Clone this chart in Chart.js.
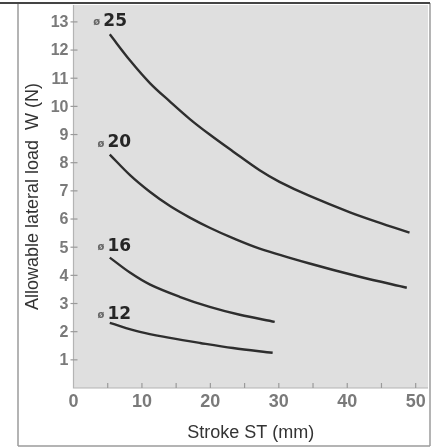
<!DOCTYPE html>
<html>
<head>
<meta charset="utf-8">
<script src="https://cdn.jsdelivr.net/npm/chart.js@4/dist/chart.umd.min.js"></script>
<style>
  html, body { margin: 0; padding: 0; background: #fff; }
  #wrap { width: 438px; height: 448px; position: relative; }
</style>
</head>
<body>
<div id="wrap"><canvas id="chart" width="438" height="448"></canvas></div>
<script>
// values (stroke mm -> load N)
const phi25X = [5.3, 8.3, 11.2, 14.1, 17.0, 19.9, 23.3, 27.2, 30.1, 34.5, 40.4, 45.2, 49.1];
const phi25Y = [12.56, 11.62, 10.82, 10.17, 9.55, 9.0, 8.4, 7.73, 7.32, 6.82, 6.24, 5.83, 5.52];
const phi20X = [5.3, 8.3, 11.2, 14.1, 17.0, 19.9, 23.3, 27.2, 34.5, 41.8, 48.7];
const phi20Y = [8.29, 7.55, 6.96, 6.46, 6.05, 5.69, 5.32, 4.95, 4.42, 3.95, 3.56];
const phi16X = [5.3, 8.3, 11.2, 15.5, 19.9, 24.3, 29.4];
const phi16Y = [4.63, 4.09, 3.67, 3.24, 2.88, 2.6, 2.35];
const phi12X = [5.3, 9.7, 14.1, 18.5, 23.3, 29.1];
const phi12Y = [2.31, 1.99, 1.78, 1.6, 1.42, 1.25];

const boreLabels = ['25', '20', '16', '12'];
const boreLabelX = [2.9, 3.5, 3.5, 3.5];
const boreLabelY = [13.0, 8.7, 5.02, 2.6];

const xTicks = [0, 10, 20, 30, 40, 50];
const yTicks = [1, 2, 3, 4, 5, 6, 7, 8, 9, 10, 11, 12, 13];

const xTitle = 'Stroke ST (mm)';
const yTitle = 'Allowable lateral load  W (N)';

const toPts = (xs, ys) => xs.map((x, i) => ({ x, y: ys[i] }));

const curve = (data) => ({
  data,
  showLine: true,
  borderColor: '#2e2e2e',
  borderWidth: 2.4,
  pointRadius: 0,
  tension: 0.35,
  fill: false
});

// frame, plot background, tick marks, y tick numbers and bore labels
const decor = {
  id: 'decor',
  beforeDraw(chart) {
    const { ctx, chartArea: a } = chart;
    ctx.save();
    ctx.fillStyle = '#dfdfdf';
    ctx.fillRect(a.left, a.top, a.right - a.left, a.bottom - a.top);
    ctx.restore();
  },
  afterDatasetsDraw(chart) {
    const { ctx, chartArea: a, scales } = chart;
    const xs = scales.x, ys = scales.y;
    ctx.save();
    // axis lines
    ctx.strokeStyle = '#b4b4b4';
    ctx.lineWidth = 1.2;
    ctx.beginPath();
    ctx.moveTo(a.left, a.top);
    ctx.lineTo(a.left, a.bottom);
    ctx.lineTo(a.right, a.bottom);
    ctx.stroke();
    // y ticks + numbers
    ctx.strokeStyle = '#9a9a9a';
    ctx.fillStyle = '#7a7a7a';
    ctx.font = 'bold 16px "Liberation Sans"';
    ctx.textAlign = 'right';
    ctx.textBaseline = 'middle';
    yTicks.forEach(v => {
      const py = ys.getPixelForValue(v);
      ctx.beginPath();
      ctx.moveTo(a.left - 3, py);
      ctx.lineTo(a.left + 4, py);
      ctx.stroke();
      ctx.fillText(String(v), a.left - 5, py + 1);
    });
    // x ticks every 5 mm
    for (let v = 5; v <= 50; v += 5) {
      const px = xs.getPixelForValue(v);
      ctx.beginPath();
      ctx.moveTo(px, a.bottom);
      ctx.lineTo(px, a.bottom - 5);
      ctx.stroke();
    }
    // bore labels
    ctx.textAlign = 'left';
    boreLabels.forEach((t, i) => {
      const px = xs.getPixelForValue(boreLabelX[i]);
      const py = ys.getPixelForValue(boreLabelY[i]);
      ctx.fillStyle = '#666';
      ctx.font = 'bold 10px "DejaVu Sans"';
      ctx.fillText('ø', px, py + 1);
      ctx.fillStyle = '#262626';
      ctx.font = 'bold 17px "DejaVu Sans"';
      ctx.fillText(t, px + 10, py);
    });
    ctx.restore();
  },
  afterDraw(chart) {
    const { ctx } = chart;
    ctx.save();
    ctx.strokeStyle = '#9c9c9c';
    ctx.lineWidth = 1.5;
    ctx.beginPath();
    ctx.moveTo(18, 3);
    ctx.lineTo(18, 446);
    ctx.moveTo(430, 3);
    ctx.lineTo(430, 446);
    ctx.moveTo(18, 446);
    ctx.lineTo(430, 446);
    ctx.stroke();
    ctx.strokeStyle = '#444';
    ctx.lineWidth = 2;
    ctx.beginPath();
    ctx.moveTo(0, 3);
    ctx.lineTo(430, 3);
    ctx.stroke();
    ctx.restore();
  }
};

new Chart(document.getElementById('chart').getContext('2d'), {
  type: 'scatter',
  data: {
    datasets: [
      curve(toPts(phi25X, phi25Y)),
      curve(toPts(phi20X, phi20Y)),
      curve(toPts(phi16X, phi16Y)),
      curve(toPts(phi12X, phi12Y))
    ]
  },
  options: {
    responsive: false,
    animation: false,
    devicePixelRatio: 1,
    layout: { padding: { left: 18, top: 5, right: 10, bottom: 2 } },
    plugins: {
      legend: { display: false },
      tooltip: { enabled: false }
    },
    scales: {
      x: {
        type: 'linear',
        min: 0,
        max: 51.8,
        afterFit: s => { s.height = 58; },
        afterBuildTicks: s => { s.ticks = xTicks.map(v => ({ value: v })); },
        grid: { display: false, drawTicks: false },
        border: { display: false },
        ticks: {
          color: '#7a7a7a',
          font: { family: 'Liberation Sans', size: 18, weight: 'bold' },
          padding: 3,
          maxRotation: 0,
          autoSkip: false
        },
        title: {
          display: true,
          text: xTitle,
          color: '#333',
          font: { family: 'Liberation Sans', size: 18 },
          padding: { top: 0, bottom: 2 }
        }
      },
      y: {
        type: 'linear',
        min: 0,
        max: 13.6,
        afterFit: s => { s.width = 55.5; },
        grid: { display: false, drawTicks: false },
        border: { display: false },
        ticks: { display: false },
        title: {
          display: true,
          text: yTitle,
          color: '#333',
          font: { family: 'Liberation Sans', size: 18 },
          padding: { top: 4, bottom: 0 }
        }
      }
    }
  },
  plugins: [decor]
});
</script>
</body>
</html>
